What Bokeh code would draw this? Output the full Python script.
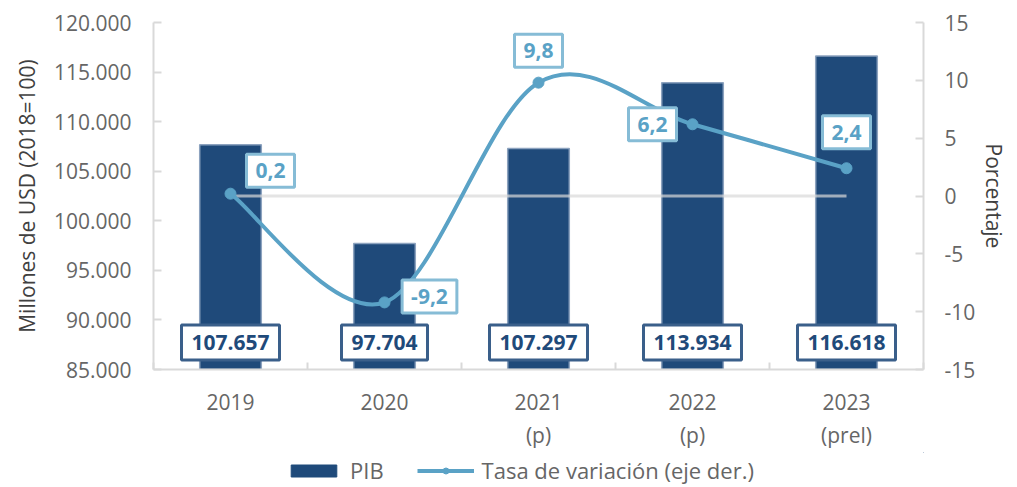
from bokeh.plotting import figure
from bokeh.models import Range1d, LinearAxis, FixedTicker, Label, Legend, LegendItem
from bokeh.layouts import column
from bokeh.embed import file_html
from bokeh.resources import INLINE

# ---- data ----
years = ["2019", "2020", "2021", "2022", "2023"]
year_labels = ["2019", "2020", "2021\n(p)", "2022\n(p)", "2023\n(prel)"]
pib = [107657, 97704, 107297, 113934, 116618]
tasa = [0.2, -9.2, 9.8, 6.2, 2.4]
left_ticks = [85000, 90000, 95000, 100000, 105000, 110000, 115000, 120000]
left_tick_labels = ["85.000", "90.000", "95.000", "100.000", "105.000", "110.000", "115.000", "120.000"]
right_ticks = [-15, -10, -5, 0, 5, 10, 15]
right_tick_labels = ["-15", "-10", "-5", "0", "5", "10", "15"]
series_names = ["PIB", "Tasa de variación (eje der.)"]

# label offsets (screen px, dx right, dy up) for the rate labels
rate_dx = [40, 45, 0, -40, 0]
rate_dy = [23, 6, 32, 0, 36]

FONT = "Open Sans"
NAVY = "#1F4A7A"
BLUE = "#5AA2C6"
TICK_TXT = "#666666"
AX_TXT = "#404040"
AXIS = "#D9D9D9"

n = len(years)
xs = [i + 0.5 for i in range(n)]

p = figure(width=1017, height=452,
           x_range=Range1d(0, n),
           y_range=Range1d(left_ticks[0], left_ticks[-1]),
           output_backend="svg", toolbar_location=None,
           min_border_left=153, min_border_right=94,
           min_border_top=22, min_border_bottom=74)
p.extra_y_ranges = {"pct": Range1d(right_ticks[0], right_ticks[-1])}
p.outline_line_color = None
p.xgrid.visible = False
p.ygrid.visible = False
p.background_fill_color = "white"
p.border_fill_color = "white"

# bars
bars = p.vbar(x=xs, top=pib, bottom=left_ticks[0], width=0.4,
              fill_color=NAVY, line_color="#8DA3BF", line_width=1.5)

# zero reference line on the right axis
p.line(x=[xs[0], xs[-1]], y=[right_ticks[3], right_ticks[3]], y_range_name="pct",
       line_color="#D9D9D9", line_width=3, line_alpha=0.7)

# smooth line (cubic bezier through the data points)
x0s, y0s, x1s, y1s, cx0s, cy0s, cx1s, cy1s = [], [], [], [], [], [], [], []
for i in range(n - 1):
    ip = max(i - 1, 0)
    i2 = min(i + 2, n - 1)
    x0s.append(xs[i]); y0s.append(tasa[i])
    x1s.append(xs[i + 1]); y1s.append(tasa[i + 1])
    cx0s.append(xs[i] + (xs[i + 1] - xs[ip]) / 6.0)
    cy0s.append(tasa[i] + (tasa[i + 1] - tasa[ip]) / 6.0)
    cx1s.append(xs[i + 1] - (xs[i2] - xs[i]) / 6.0)
    cy1s.append(tasa[i + 1] - (tasa[i2] - tasa[i]) / 6.0)
p.bezier(x0=x0s, y0=y0s, x1=x1s, y1=y1s, cx0=cx0s, cy0=cy0s, cx1=cx1s, cy1=cy1s,
         y_range_name="pct", line_color=BLUE, line_width=4)
p.scatter(x=xs, y=tasa, y_range_name="pct", size=11, color=BLUE)

# bar value labels
for x, v in zip(xs, pib):
    txt = f"{v:,}".replace(",", ".")
    p.add_layout(Label(x=x, y=left_ticks[0], y_offset=27, text=txt,
                       text_align="center", text_baseline="middle",
                       text_font=FONT, text_font_size="21px", text_font_style="bold",
                       text_color="#1F4A7A",
                       background_fill_color="white",
                       border_line_color="#3A5F8A", border_line_width=3,
                       padding=10))

# rate labels
for x, v, dx, dy in zip(xs, tasa, rate_dx, rate_dy):
    txt = f"{v:.1f}".replace(".", ",")
    p.add_layout(Label(x=x, y=v, y_range_name="pct", x_offset=dx, y_offset=dy, text=txt,
                       text_align="center", text_baseline="middle",
                       text_font=FONT, text_font_size="21px", text_font_style="bold",
                       text_color=BLUE,
                       background_fill_color="white",
                       border_line_color="#86BCD6", border_line_width=3,
                       padding=9))

# left axis
la = p.yaxis[0]
la.ticker = FixedTicker(ticks=left_ticks, minor_ticks=[])
la.major_label_overrides = dict(zip(left_ticks, left_tick_labels))
la.axis_label = "Millones de USD (2018=100)"

# right axis
ra = LinearAxis(y_range_name="pct", ticker=FixedTicker(ticks=right_ticks, minor_ticks=[]),
                axis_label="Porcentaje")
ra.major_label_overrides = dict(zip(right_ticks, right_tick_labels))
p.add_layout(ra, "right")

for ax in (la, ra):
    ax.axis_line_color = AXIS
    ax.axis_line_width = 2
    ax.major_tick_line_color = AXIS
    ax.major_tick_line_width = 2
    ax.major_tick_in = 8
    ax.major_tick_out = 0
    ax.minor_tick_line_color = None
    ax.major_label_text_font = FONT
    ax.major_label_text_font_size = "21px"
    ax.major_label_text_color = TICK_TXT
    ax.major_label_standoff = 22
    ax.axis_label_text_font = FONT
    ax.axis_label_text_font_size = "21px"
    ax.axis_label_text_font_style = "normal"
    ax.axis_label_text_color = AX_TXT
    ax.axis_label_standoff = 10
ra.major_label_standoff = 21
ra.axis_label_standoff = 2

# bottom axis
xa = p.xaxis[0]
xa.ticker = FixedTicker(ticks=xs, minor_ticks=list(range(n + 1)))
xa.major_label_overrides = dict(zip(xs, year_labels))
xa.axis_line_color = AXIS
xa.axis_line_width = 2
xa.major_tick_line_color = None
xa.minor_tick_line_color = AXIS
xa.minor_tick_line_width = 2
xa.minor_tick_in = 7
xa.minor_tick_out = 0
xa.major_label_text_font = FONT
xa.major_label_text_font_size = "21px"
xa.major_label_text_color = TICK_TXT
xa.major_label_text_line_height = 1.2
xa.major_label_standoff = 12

# ---- legend strip (separate figure below the chart) ----
lg = figure(width=1017, height=35, x_range=Range1d(-10, -9), y_range=Range1d(-10, -9),
            output_backend="svg", toolbar_location=None,
            min_border_left=0, min_border_right=0, min_border_top=0, min_border_bottom=0)
lg.xaxis.visible = False
lg.yaxis.visible = False
lg.xgrid.visible = False
lg.ygrid.visible = False
lg.outline_line_color = None
lg.border_fill_color = "white"
lg.background_fill_color = "white"
# proxies lie outside the strip's view, so that only their legend glyphs show
bar_proxy = lg.vbar(x=[xs[-1]], top=[pib[-1]], bottom=[pib[0]], width=0.4,
                    fill_color=NAVY, line_color=NAVY)
line_proxy = lg.line(x=xs, y=pib, line_color=BLUE, line_width=4)
dot_proxy = lg.scatter(x=xs, y=pib, size=12, color=BLUE)
legend = Legend(items=[LegendItem(label=series_names[0], renderers=[bar_proxy]),
                       LegendItem(label=series_names[1], renderers=[line_proxy, dot_proxy])],
                location=(132, 2), orientation="horizontal",
                margin=0, padding=0, spacing=33, label_standoff=8,
                glyph_width=57, glyph_height=15,
                border_line_color=None, background_fill_alpha=0,
                label_text_font=FONT, label_text_font_size="22px", label_text_color=TICK_TXT)
lg.add_layout(legend, "center")

open("out.html", "w").write(file_html(column(p, lg, spacing=0), INLINE))
